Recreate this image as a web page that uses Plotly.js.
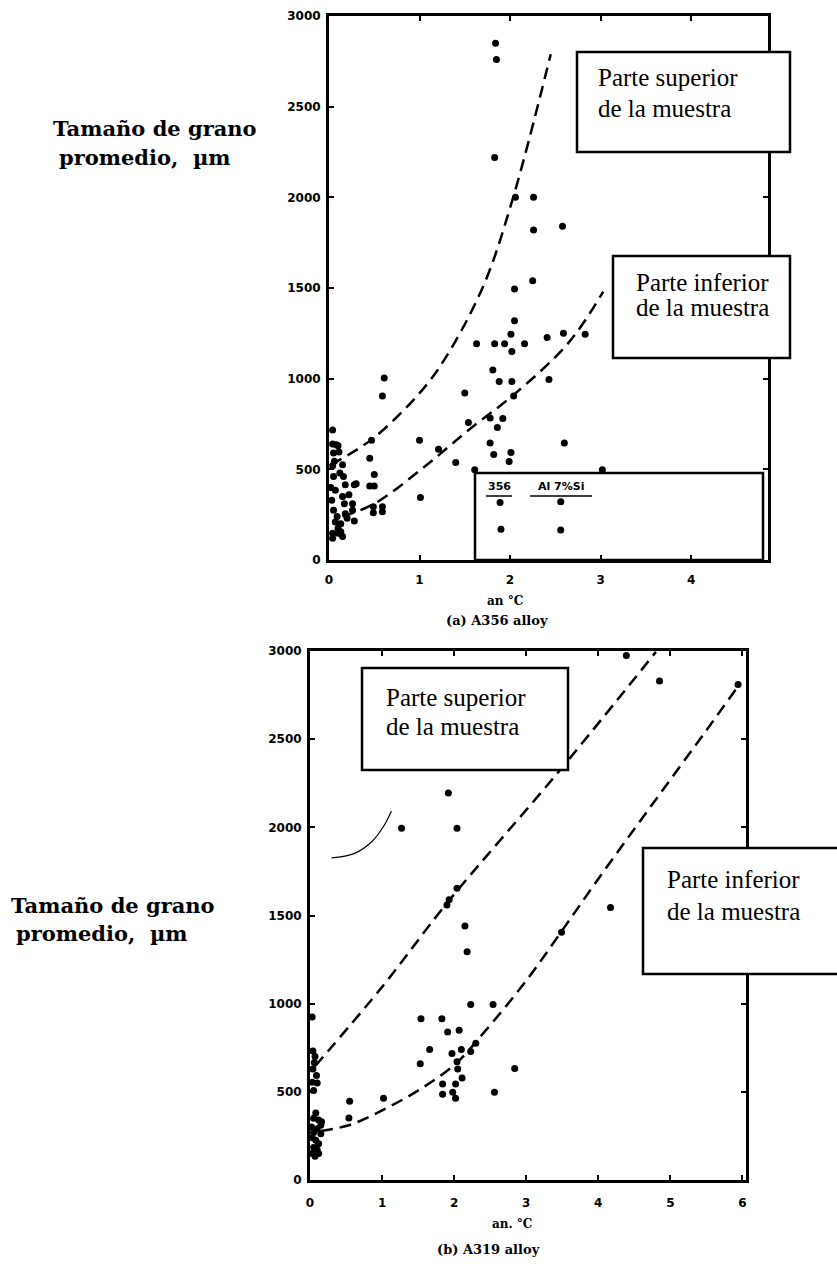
<!DOCTYPE html>
<html>
<head>
<meta charset="utf-8">
<script src="https://cdn.plot.ly/plotly-3.0.1.min.js"></script>
<style>html,body{margin:0;padding:0;background:#fff;}#chart{width:837px;height:1270px;}</style>
</head>
<body>
<div id="chart"></div>
<script>
// ---------- DATA ----------
// (a) A356 alloy : measured points
const a356X = [1.84,1.85,1.83,2.06,2.26,2.26,2.58,2.25,2.05,2.05,2.01,1.63,1.83,1.94,2.16,2.02,2.41,2.59,2.83,1.81,1.88,2.02,2.43,2.04,1.50,0.61,0.59,1.54,1.78,1.86,1.92,1.00,1.21,1.78,1.82,2.01,1.99,1.40,1.61,3.02,2.60,0.47,0.45,0.50,0.45,0.50,0.49,0.59,0.49,0.59,1.01,0.28,1.89,1.90,2.56,2.56,
  0.04,0.04,0.08,0.10,0.05,0.11,0.06,0.04,0.15,0.05,0.16,0.30,0.18,0.28,0.07,0.22,0.15,0.17,0.26,0.05,0.18,0.26,0.07,0.13,0.10,0.13,0.04,0.04,0.15,0.10,0.20,0.12,0.02,0.03,0.09];
const a356Y = [2850,2760,2220,2000,2000,1820,1840,1540,1495,1320,1245,1193,1193,1193,1193,1150,1227,1250,1245,1048,985,985,996,905,921,1003,905,758,783,731,781,661,611,645,582,593,543,537,498,498,645,661,561,471,408,408,294,294,260,266,344,215,317,170,321,165,
  717,640,635,630,590,595,545,520,525,460,460,420,415,415,385,360,350,310,310,275,255,275,210,200,147,156,147,120,130,175,230,480,400,330,240];
// (a) fitted dashed curves
const a356UpperX = [0.02,0.48,1.00,1.28,1.71,2.03,2.45];
const a356UpperY = [525,668,920,1109,1517,1992,2790];
const a356LowerX = [0.15,0.50,1.02,1.55,2.05,2.65,3.03];
const a356LowerY = [240,310,500,720,915,1200,1480];

// (b) A319 alloy : measured points
const a319X = [4.39,4.85,5.94,1.92,1.27,2.04,2.04,1.90,1.93,2.15,2.18,4.17,3.49,2.23,2.54,1.54,1.83,1.91,2.07,1.66,1.97,2.10,2.23,2.30,1.53,2.04,2.05,2.84,1.84,2.02,2.11,1.84,1.98,2.02,2.56,1.02,0.55,0.54,
  0.03,0.04,0.07,0.06,0.04,0.09,0.03,0.05,0.10,0.08,0.05,0.12,0.15,0.10,0.05,0.15,0.03,0.08,0.12,0.05,0.10,0.03,0.07,0.12,0.16,0.02];
const a319Y = [2975,2830,2810,2195,1995,1995,1655,1560,1590,1440,1295,1545,1405,995,995,915,915,840,849,740,717,740,729,775,659,671,629,632,544,544,578,486,497,463,497,463,446,352,
  925,732,700,667,629,592,554,507,550,380,350,340,310,290,270,262,240,225,205,185,170,150,135,150,330,300];
// (b) fitted dashed curves
const a319UpperX = [0.07,1.00,1.90,3.47,4.80];
const a319UpperY = [645,1095,1570,2325,2995];
const a319LowerX = [0.15,0.55,1.05,1.55,2.02,2.40,3.00,3.49,3.97,4.50,5.00,5.50,5.94];
const a319LowerY = [278,312,405,520,659,830,1130,1410,1690,1990,2270,2550,2800];
// (b) thin hand-drawn arc
const a319ArcX = [0.30,0.61,0.86,1.03,1.13];
const a319ArcY = [1827,1851,1920,2012,2093];

// tick labels
const yTicks = [0,500,1000,1500,2000,2500,3000];
const xTicksA = [0,1,2,3,4];
const xTicksB = [0,1,2,3,4,5,6];

// texts
const yLabelLines = ['Tamaño de grano','promedio,  µm'];
const boxSup = ['Parte superior','de la muestra'];
const boxInf = ['Parte inferior','de la muestra'];
const xTitleA = 'an °C';
const xTitleB = 'an. °C';
const captionA = '(a) A356 alloy';
const captionB = '(b) A319 alloy';
const legend356 = ['356','Al 7%Si'];

// ---------- LAYOUT HELPERS ----------
const W = 837, H = 1270;
const px = x => x / W;
const py = y => 1 - y / H;

const serif = 'Liberation Serif, Times New Roman, serif';
const wideSerif = 'DejaVu Serif, serif';
const tickFont = {family: 'DejaVu Sans, sans-serif', size: 12, color: '#000', weight: 'bold'};

function axisBase(extra) {
  return Object.assign({
    showline: true, linecolor: '#000', linewidth: 3, mirror: 'ticks',
    ticks: 'inside', ticklen: 5, tickwidth: 2, tickcolor: '#000',
    showgrid: false, zeroline: false, tickfont: tickFont, fixedrange: true
  }, extra);
}

const mk = {color: '#000', size: 7};
const dashLine = {color: '#000', width: 2.5, dash: '12px,7px'};

const traces = [
  {x: a356X, y: a356Y, mode: 'markers', type: 'scatter', marker: mk, xaxis: 'x', yaxis: 'y', cliponaxis: false},
  {x: a356UpperX, y: a356UpperY, mode: 'lines', type: 'scatter', line: Object.assign({shape: 'spline'}, dashLine), xaxis: 'x', yaxis: 'y'},
  {x: a356LowerX, y: a356LowerY, mode: 'lines', type: 'scatter', line: Object.assign({shape: 'spline'}, dashLine), xaxis: 'x', yaxis: 'y'},
  {x: a319X, y: a319Y, mode: 'markers', type: 'scatter', marker: mk, xaxis: 'x2', yaxis: 'y2', cliponaxis: false},
  {x: a319UpperX, y: a319UpperY, mode: 'lines', type: 'scatter', line: Object.assign({shape: 'spline'}, dashLine), xaxis: 'x2', yaxis: 'y2'},
  {x: a319LowerX, y: a319LowerY, mode: 'lines', type: 'scatter', line: Object.assign({shape: 'spline'}, dashLine), xaxis: 'x2', yaxis: 'y2'},
  {x: a319ArcX, y: a319ArcY, mode: 'lines', type: 'scatter', line: {color: '#000', width: 1.2, shape: 'spline'}, xaxis: 'x2', yaxis: 'y2'}
];

function rect(x0, y0, x1, y1, fill) {
  return {type: 'rect', xref: 'paper', yref: 'paper', x0: px(x0), x1: px(x1), y0: py(y1), y1: py(y0),
          line: {color: '#000', width: 2.5}, fillcolor: fill === false ? 'rgba(0,0,0,0)' : '#fff', layer: 'above'};
}
function hline(x0, x1, y) {
  return {type: 'line', xref: 'paper', yref: 'paper', x0: px(x0), x1: px(x1), y0: py(y), y1: py(y),
          line: {color: '#000', width: 1.5}, layer: 'above'};
}
function txt(t, x, y, size, bold, anchor, family) {
  return {text: t, xref: 'paper', yref: 'paper', x: px(x), y: py(y), xanchor: anchor || 'left', yanchor: 'middle',
          showarrow: false, font: {family: family || serif, size: size, color: '#000', weight: bold ? 'bold' : 'normal'}};
}

const shapes = [
  rect(577, 52, 790, 152),
  rect(613, 256, 790, 358),
  rect(475, 473, 763, 560, false),
  hline(486, 512, 496), hline(530, 592, 496),
  rect(362, 668, 568, 770),
  rect(643, 848, 840, 974)
];

const annotations = [
  txt(yLabelLines[0], 51, 128, 21, true, 'left', wideSerif), txt(yLabelLines[1], 57, 157, 21, true, 'left', wideSerif),
  txt(yLabelLines[0], 9, 905, 21, true, 'left', wideSerif), txt(yLabelLines[1], 14, 933, 21, true, 'left', wideSerif),
  txt(boxSup[0], 596, 78, 25), txt(boxSup[1], 596, 108, 25),
  txt(boxInf[0], 634, 282, 25), txt(boxInf[1], 634, 307, 25),
  txt(legend356[0], 499, 486, 11, true, 'center', 'DejaVu Sans, sans-serif'), txt(legend356[1], 561, 486, 11, true, 'center', 'DejaVu Sans, sans-serif'),
  txt(boxSup[0], 384, 697, 25), txt(boxSup[1], 384, 726, 25),
  txt(boxInf[0], 665, 879, 25), txt(boxInf[1], 665, 911, 25),
  txt(xTitleA, 505, 601, 12, true, 'center', wideSerif), txt(captionA, 497, 621, 13, true, 'center', wideSerif),
  txt(xTitleB, 512, 1224, 12, true, 'center', wideSerif), txt(captionB, 488, 1249, 13, true, 'center', wideSerif)
];

const layout = {
  width: W, height: H, margin: {l: 0, r: 0, t: 0, b: 0},
  paper_bgcolor: '#fff', plot_bgcolor: '#fff', showlegend: false,
  xaxis: axisBase({domain: [px(329), px(768)], range: [0, 4.85], tickvals: xTicksA, ticktext: xTicksA.map(String), anchor: 'y', ticklabelstandoff: 7}),
  yaxis: axisBase({domain: [py(560), py(16)], range: [0, 3000], tickvals: yTicks, ticktext: yTicks.map(String), anchor: 'x', ticklabelstandoff: 3}),
  xaxis2: axisBase({domain: [px(310), px(746)], range: [0, 6.05], tickvals: xTicksB, ticktext: xTicksB.map(String), anchor: 'y2', ticklabelstandoff: 10}),
  yaxis2: axisBase({domain: [py(1180), py(651)], range: [0, 3000], tickvals: yTicks, ticktext: yTicks.map(String), anchor: 'x2', ticklabelstandoff: 3}),
  shapes: shapes,
  annotations: annotations
};

Plotly.newPlot('chart', traces, layout, {displayModeBar: false, staticPlot: true});
</script>
</body>
</html>
